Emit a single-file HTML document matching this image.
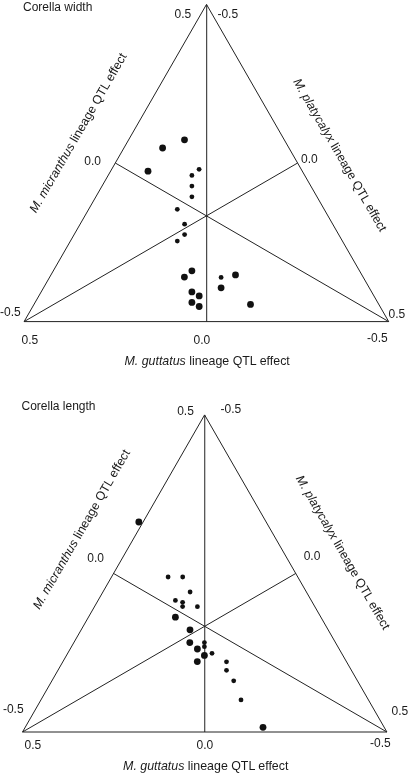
<!DOCTYPE html>
<html><head><meta charset="utf-8"><style>
html,body{margin:0;padding:0;background:#fff;width:409px;height:773px;overflow:hidden}
svg{display:block}
text{font-family:"Liberation Sans",sans-serif;font-size:12px;fill:#1a1a1a}
.i{font-style:italic}
.ax{font-size:12.4px}
svg{filter:grayscale(1)}
.ln{fill:none;stroke:#222;stroke-width:1}
circle{fill:#111}
</style></head><body>
<svg width="409" height="773" viewBox="0 0 409 773">
<path d="M206.50 4.40L24.10 321.60L388.70 321.60Z" class="ln"/>
<path d="M206.70 4.70L206.70 321.60M24.10 321.60L297.60 163.00M388.70 321.60L115.30 163.00" class="ln"/>
<path d="M204.60 414.90L22.50 732.00L386.90 732.00Z" class="ln"/>
<path d="M204.75 415.20L204.75 732.00M22.50 732.00L295.75 573.45M386.90 732.00L113.55 573.45" class="ln"/>
<circle cx="184.5" cy="139.8" r="3.4"/>
<circle cx="162.6" cy="148" r="3.4"/>
<circle cx="148" cy="171.2" r="3.4"/>
<circle cx="199.1" cy="169.3" r="2.4"/>
<circle cx="191.9" cy="175.4" r="2.4"/>
<circle cx="191.9" cy="186.1" r="2.4"/>
<circle cx="191.9" cy="196.8" r="2.4"/>
<circle cx="177.3" cy="209.3" r="2.4"/>
<circle cx="184.6" cy="224.2" r="2.4"/>
<circle cx="184.6" cy="234.6" r="2.4"/>
<circle cx="177.3" cy="241.1" r="2.4"/>
<circle cx="191.9" cy="270.8" r="3.4"/>
<circle cx="184.4" cy="277.1" r="3.4"/>
<circle cx="191.9" cy="291.9" r="3.4"/>
<circle cx="199.2" cy="295.9" r="3.4"/>
<circle cx="191.9" cy="302.4" r="3.4"/>
<circle cx="199.2" cy="306.5" r="3.4"/>
<circle cx="221.1" cy="277.4" r="2.4"/>
<circle cx="235.5" cy="274.9" r="3.4"/>
<circle cx="221.1" cy="287.8" r="3.4"/>
<circle cx="250.5" cy="304.4" r="3.4"/>
<circle cx="138.8" cy="522" r="3.4"/>
<circle cx="168.1" cy="577.0" r="2.4"/>
<circle cx="182.7" cy="577.0" r="2.4"/>
<circle cx="190.1" cy="592.0" r="2.4"/>
<circle cx="175.4" cy="600.4" r="2.4"/>
<circle cx="182.6" cy="602.3" r="2.4"/>
<circle cx="182.6" cy="606.6" r="2.4"/>
<circle cx="197.4" cy="606.7" r="2.4"/>
<circle cx="175.4" cy="617.2" r="3.4"/>
<circle cx="190.0" cy="629.8" r="3.4"/>
<circle cx="189.8" cy="642.6" r="3.4"/>
<circle cx="204.4" cy="642.6" r="2.4"/>
<circle cx="204.4" cy="646.7" r="2.4"/>
<circle cx="197.4" cy="649.0" r="3.4"/>
<circle cx="204.4" cy="655.4" r="3.4"/>
<circle cx="212.0" cy="653.3" r="2.4"/>
<circle cx="197.3" cy="661.6" r="3.4"/>
<circle cx="226.5" cy="661.8" r="2.4"/>
<circle cx="226.5" cy="670.3" r="2.4"/>
<circle cx="233.7" cy="680.8" r="2.4"/>
<circle cx="241.0" cy="699.9" r="2.4"/>
<circle cx="263.0" cy="727.3" r="3.4"/>
<text x="23" y="11">Corella width</text>
<text x="174.5" y="17.8">0.5</text>
<text x="217.4" y="17.6">-0.5</text>
<text x="84.3" y="164.9">0.0</text>
<text x="301" y="163">0.0</text>
<text x="0" y="316">-0.5</text>
<text x="388.5" y="317.7">0.5</text>
<text x="21.5" y="343.8">0.5</text>
<text x="193.5" y="343.6">0.0</text>
<text x="367" y="341.7">-0.5</text>
<text x="124.5" y="364.8" class="ax"><tspan class="i">M. guttatus</tspan> lineage QTL effect</text>
<text class="ax" transform="translate(36.1,213.6) rotate(-60)"><tspan class="i">M. micranthus</tspan> lineage QTL effect</text>
<text class="ax" transform="translate(293,81.6) rotate(60)" style="font-size:12.3px"><tspan class="i">M. platycalyx</tspan> lineage QTL effect</text>
<text x="21.5" y="410.3">Corella length</text>
<text x="177.2" y="414.5">0.5</text>
<text x="220.5" y="413">-0.5</text>
<text x="87.3" y="562">0.0</text>
<text x="303.7" y="560">0.0</text>
<text x="2.9" y="712.9">-0.5</text>
<text x="391.5" y="714.8">0.5</text>
<text x="24.5" y="748.7">0.5</text>
<text x="196.6" y="749.1">0.0</text>
<text x="370.1" y="746.8">-0.5</text>
<text x="123.1" y="769.6" class="ax"><tspan class="i">M. guttatus</tspan> lineage QTL effect</text>
<text class="ax" transform="translate(39.5,610) rotate(-60)"><tspan class="i">M. micranthus</tspan> lineage QTL effect</text>
<text class="ax" transform="translate(295.6,478.3) rotate(60)" style="font-size:12.4px"><tspan class="i">M. platycalyx</tspan> lineage QTL effect</text>
</svg>
</body></html>
